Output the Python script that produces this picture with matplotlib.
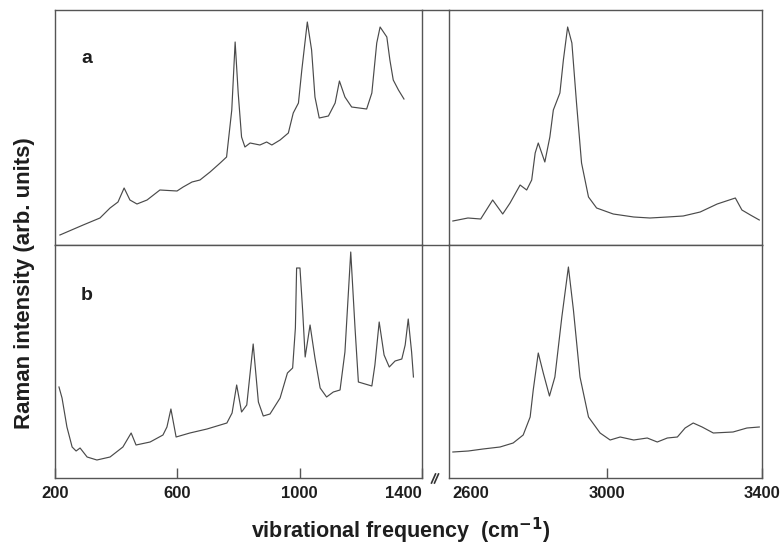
"""Raman spectra a/b, low and high frequency ranges with a broken axis."""

import matplotlib
matplotlib.use("Agg")
import matplotlib.pyplot as plt
from matplotlib.lines import Line2D

plt.rcParams["font.family"] = ["Liberation Sans", "DejaVu Sans"]

# ── spectrum a, 200-1400 cm-1 ──
a_low_x = [216, 292, 347, 380, 406, 426, 445, 468, 501, 543, 599, 619, 648, 674,
           707, 740, 761, 778, 789, 799, 810, 821, 838, 870, 892, 909, 936, 963,
           979, 996, 1007, 1025, 1039, 1050, 1064, 1094, 1116, 1130, 1148, 1170,
           1219, 1236, 1252, 1263, 1285, 1295, 1306, 1323, 1341]
a_low_y = [10, 20, 27, 37, 43, 57, 45, 41, 45, 55, 54, 58, 63, 65,
           73, 82, 88, 135, 203, 152, 108, 98, 102, 100, 103, 100, 105, 112,
           132, 142, 175, 223, 195, 148, 127, 129, 142, 164, 148, 138,
           136, 152, 202, 218, 208, 185, 165, 155, 146]

# ── spectrum a, 2600-3400 cm-1 ──
a_high_x = [2600, 2639, 2672, 2690, 2703, 2716, 2729, 2748, 2774, 2791, 2804, 2813,
            2821, 2838, 2851, 2860, 2877, 2886, 2897, 2908, 2920, 2933, 2951, 2972,
            3015, 3068, 3110, 3155, 3196, 3240, 3284, 3331, 3348, 3370, 3393]
a_high_y = [24, 27, 26, 37, 45, 38, 31, 42, 60, 55, 65, 92,
            102, 83, 108, 135, 152, 185, 218, 202, 142, 82, 48, 37,
            31, 28, 27, 28, 29, 33, 41, 47, 35, 30, 25]

# ── spectrum b, 200-1400 cm-1 ──
b_low_x = [213, 223, 239, 256, 269, 282, 305, 337, 380, 422, 449, 465, 511, 553,
           566, 579, 596, 641, 697, 762, 779, 794, 810, 827, 848, 865, 881, 903,
           936, 960, 977, 986, 990, 1001, 1010, 1018, 1034, 1050, 1067, 1088,
           1110, 1132, 1148, 1167, 1181, 1192, 1236, 1246, 1260, 1276, 1293,
           1312, 1334, 1345, 1355, 1366, 1372]
b_low_y = [91, 80, 51, 31, 27, 30, 21, 18, 21, 31, 45, 33, 36, 43,
           51, 69, 41, 45, 49, 55, 65, 93, 66, 73, 134, 76, 62, 64,
           80, 105, 110, 150, 210, 210, 166, 121, 153, 120, 90, 81,
           86, 88, 126, 226, 150, 96, 92, 113, 156, 123, 111,
           117, 119, 133, 159, 126, 101]

# ── spectrum b, 2600-3400 cm-1 ──
b_high_x = [2600, 2640, 2678, 2722, 2756, 2782, 2800, 2808, 2821, 2834, 2850, 2864,
            2882, 2899, 2912, 2929, 2951, 2981, 3007, 3033, 3068, 3103, 3129, 3155,
            3181, 3201, 3222, 3245, 3274, 3325, 3361, 3393]
b_high_y = [26, 27, 29, 31, 35, 43, 61, 88, 125, 105, 82, 101,
            161, 211, 168, 101, 61, 45, 38, 41, 38, 40, 36, 40,
            41, 50, 55, 51, 45, 46, 50, 51]

panel_labels = ["a", "b"]
low_ticks = [200, 600, 1000, 1400]
high_ticks = [2600, 3000, 3400]

FRAME = "#555555"
LINE = "#4a4a4a"
TEXT = "#1e1e1e"

W, H = 782, 546
fig = plt.figure(figsize=(W / 100, H / 100), dpi=100)


def fx(px):
    return px / W


def fy(py):
    return 1 - py / H


x_l0, x_l1, x_r0, x_r1 = 55, 422, 449, 762
y_top, y_mid, y_bot = 10, 245, 478

ax_a_low = fig.add_axes([fx(x_l0), fy(y_mid), fx(x_l1 - x_l0), (y_mid - y_top) / H])
ax_a_high = fig.add_axes([fx(x_r0), fy(y_mid), fx(x_r1 - x_r0), (y_mid - y_top) / H])
ax_b_low = fig.add_axes([fx(x_l0), fy(y_bot), fx(x_l1 - x_l0), (y_bot - y_mid) / H])
ax_b_high = fig.add_axes([fx(x_r0), fy(y_bot), fx(x_r1 - x_r0), (y_bot - y_mid) / H])

pairs = [
    (ax_a_low, a_low_x, a_low_y, (200, 1400), (0, 235)),
    (ax_a_high, a_high_x, a_high_y, (2590, 3400), (0, 235)),
    (ax_b_low, b_low_x, b_low_y, (200, 1400), (0, 233)),
    (ax_b_high, b_high_x, b_high_y, (2590, 3400), (0, 233)),
]
for ax, xs, ys, xlim, ylim in pairs:
    ax.plot(xs, ys, color=LINE, lw=0.85, solid_joinstyle="round")
    ax.set_xlim(*xlim)
    ax.set_ylim(*ylim)
    ax.set_yticks([])
    for sp in ax.spines.values():
        sp.set_color(FRAME)
        sp.set_linewidth(1.0)

for ax in (ax_a_low, ax_a_high):
    ax.set_xticks([])

for ax, ticks in ((ax_b_low, low_ticks), (ax_b_high, high_ticks)):
    ax.set_xticks(ticks)
    ax.set_xticklabels([str(t) for t in ticks], fontsize=12, fontweight="bold",
                       color=TEXT)
    ax.tick_params(axis="x", direction="in", length=7, width=1.0, color=FRAME, pad=6)

ax_b_low.get_xticklabels()[-1].set_ha("right")
ax_b_high.get_xticklabels()[0].set_ha("left")
ax_b_high.xaxis.get_major_ticks()[0].tick1line.set_visible(False)

# panel letters
ax_a_low.text(0.087, 0.795, panel_labels[0], transform=ax_a_low.transAxes,
              fontsize=14, fontweight="bold", color=TEXT, ha="center", va="center")
ax_b_low.text(0.087, 0.785, panel_labels[1], transform=ax_b_low.transAxes,
              fontsize=14, fontweight="bold", color=TEXT, ha="center", va="center")

# top and middle frame lines across the axis break
for py in (y_top, y_mid):
    fig.add_artist(Line2D([fx(x_l1), fx(x_r0)], [fy(py), fy(py)], color=FRAME, lw=1.0))

# break mark
for dx in (-1.5, 1.5):
    fig.add_artist(Line2D([fx(433 + dx), fx(437 + dx)], [fy(483), fy(474)],
                          color="#333333", lw=1.2))

fig.text(fx(401), fy(531), "vibrational frequency  (cm$^{\\mathbf{-1}}$)",
         fontsize=15.5, fontweight="bold", color=TEXT, ha="center", va="center")
fig.text(fx(25), fy(283), "Raman intensity (arb. units)", rotation=90,
         fontsize=16, fontweight="bold", color=TEXT, ha="center", va="center")

fig.savefig("out.png", dpi=100)
